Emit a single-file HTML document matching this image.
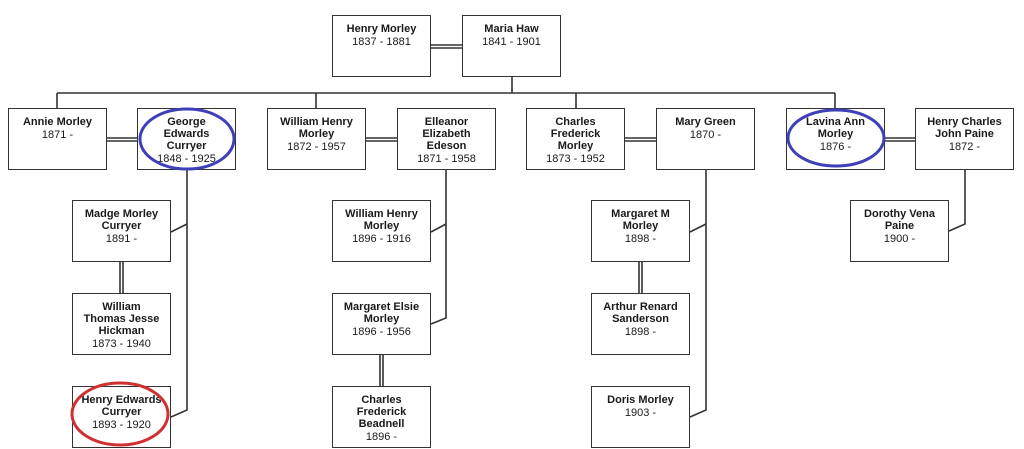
<!DOCTYPE html>
<html><head><meta charset="utf-8"><style>
body{margin:0;background:#fff;width:1024px;height:449px;overflow:hidden;font-family:"Liberation Sans",Arial,sans-serif}
.b{position:absolute;width:97px;border:1.5px solid #333;background:#fff;text-align:center;font-size:11px;line-height:12px;color:#1a1a1a;padding-top:7px;height:53px;white-space:nowrap}
.b b{display:block;font-weight:bold}
.b span{display:block;margin-top:1px}
svg{position:absolute;left:0;top:0}
</style></head><body>
<svg width="1024" height="449" style="z-index:0">
<g stroke="#333" stroke-width="1.6" fill="none">
<path d="M512 77V93M57 93H835M57 93V108M316 93V108M576 93V108M835 93V108"/>
<path d="M431 45H462M431 48H462"/>
<path d="M107 138H137M107 141H137M366 138H397M366 141H397M625 138H656M625 141H656M885 138H915M885 141H915"/>
<path d="M120 262V293M123 262V293M380 355V386M383 355V386M639 262V293M642 262V293"/>
<path d="M187 170V410L171 417M171 232L187 224"/>
<path d="M446 170V318L431 324M431 232L446 224"/>
<path d="M706 170V410L690 417M690 232L706 224"/>
<path d="M965 170V224L949 231"/>
</g></svg>
<div class="b" style="left:332px;top:15px"><b>Henry Morley</b><span>1837 - 1881</span></div>
<div class="b" style="left:462px;top:15px"><b>Maria Haw</b><span>1841 - 1901</span></div>
<div class="b" style="left:8px;top:108px"><b>Annie Morley</b><span>1871 -</span></div>
<div class="b" style="left:137px;top:108px"><b>George<br>Edwards<br>Curryer</b><span>1848 - 1925</span></div>
<div class="b" style="left:267px;top:108px"><b>William Henry<br>Morley</b><span>1872 - 1957</span></div>
<div class="b" style="left:397px;top:108px"><b>Elleanor<br>Elizabeth<br>Edeson</b><span>1871 - 1958</span></div>
<div class="b" style="left:526px;top:108px"><b>Charles<br>Frederick<br>Morley</b><span>1873 - 1952</span></div>
<div class="b" style="left:656px;top:108px"><b>Mary Green</b><span>1870 -</span></div>
<div class="b" style="left:786px;top:108px"><b>Lavina Ann<br>Morley</b><span>1876 -</span></div>
<div class="b" style="left:915px;top:108px"><b>Henry Charles<br>John Paine</b><span>1872 -</span></div>
<div class="b" style="left:72px;top:200px"><b>Madge Morley<br>Curryer</b><span>1891 -</span></div>
<div class="b" style="left:332px;top:200px"><b>William Henry<br>Morley</b><span>1896 - 1916</span></div>
<div class="b" style="left:591px;top:200px"><b>Margaret M<br>Morley</b><span>1898 -</span></div>
<div class="b" style="left:850px;top:200px"><b>Dorothy Vena<br>Paine</b><span>1900 -</span></div>
<div class="b" style="left:72px;top:293px"><b>William<br>Thomas Jesse<br>Hickman</b><span>1873 - 1940</span></div>
<div class="b" style="left:332px;top:293px"><b>Margaret Elsie<br>Morley</b><span>1896 - 1956</span></div>
<div class="b" style="left:591px;top:293px"><b>Arthur Renard<br>Sanderson</b><span>1898 -</span></div>
<div class="b" style="left:72px;top:386px"><b>Henry Edwards<br>Curryer</b><span>1893 - 1920</span></div>
<div class="b" style="left:332px;top:386px"><b>Charles<br>Frederick<br>Beadnell</b><span>1896 -</span></div>
<div class="b" style="left:591px;top:386px"><b>Doris Morley</b><span>1903 -</span></div>
<svg width="1024" height="449" style="z-index:2">
<g fill="none" stroke-width="3">
<ellipse cx="187" cy="139" rx="47" ry="30" stroke="#3f3fb8"/>
<ellipse cx="836" cy="138" rx="48" ry="28" stroke="#3f3fb8"/>
<ellipse cx="120" cy="414" rx="48" ry="31" stroke="#d03030"/>
</g></svg>
</body></html>
